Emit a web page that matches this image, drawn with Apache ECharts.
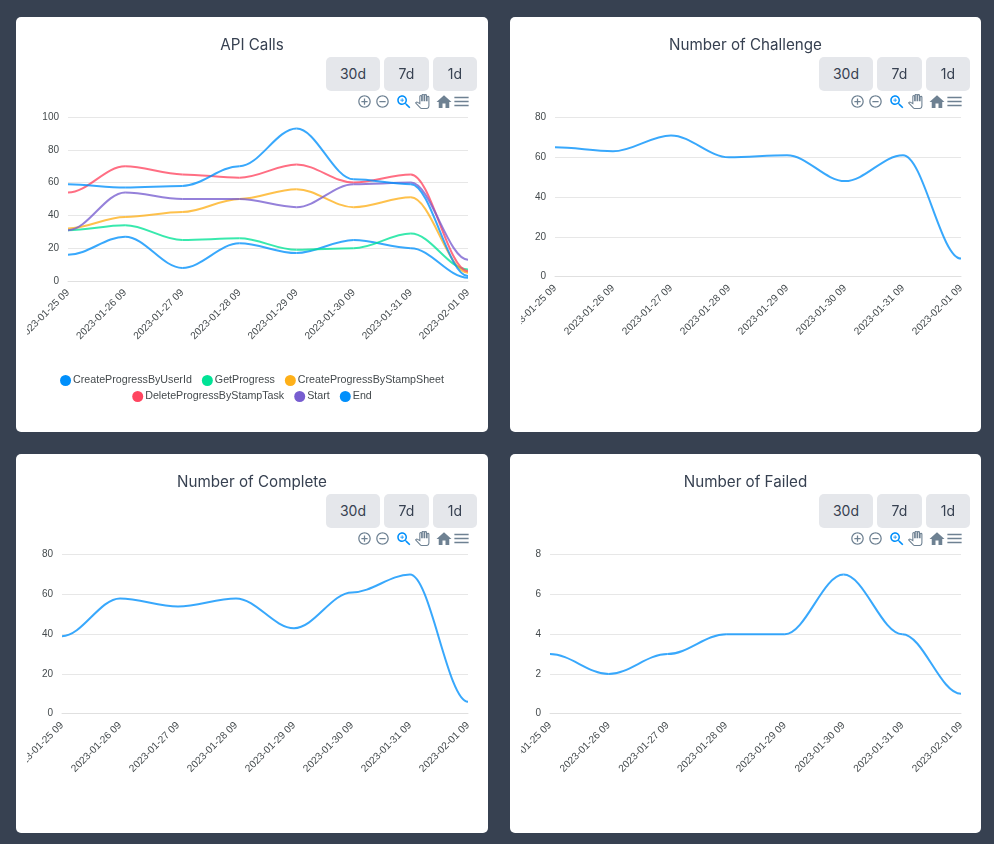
<!DOCTYPE html>
<html>
<head>
<meta charset="utf-8">
<title>Stats</title>
<script src="https://cdn.jsdelivr.net/npm/echarts@6/dist/echarts.min.js"></script>
<style>
  html, body { margin: 0; padding: 0; background: #374151; width: 994px; height: 844px; overflow: hidden; }
  .card { position: absolute; background: #fff; border-radius: 5px; }
  .chart { position: absolute; top: 0; }
  .btn { position: absolute; top: 40px; height: 34px; font: 14px/34px Inter, sans-serif; text-align: center;
         background: #e5e7eb; border-radius: 5px; color: #374151; }
  .tool { position: absolute; display: block; }
</style>
</head>
<body>
<div id="page"></div>
<script>
// カテゴリと各系列の値
const days = ['2023-01-25 09', '2023-01-26 09', '2023-01-27 09', '2023-01-28 09', '2023-01-29 09', '2023-01-30 09', '2023-01-31 09', '2023-02-01 09'];

const createByUserId = [16, 27, 8, 23, 17, 25, 20, 2];
const getProgress = [31, 34, 25, 26, 19, 20, 29, 7];
const createByStampSheet = [32, 39, 42, 50, 56, 45, 51, 5];
const deleteByStampTask = [54, 70, 65, 63, 71, 60, 65, 6];
const startCalls = [31, 54, 50, 50, 45, 59, 60, 13];
const endCalls = [59, 57, 58, 70, 93, 62, 59, 3];

const challengeCounts = [65, 63, 71, 60, 61, 48, 61, 9];
const completeCounts = [39, 58, 54, 58, 43, 61, 70, 6];
const failedCounts = [3, 2, 3, 4, 4, 7, 4, 1];

const rangeLabels = ['30d', '7d', '1d'];
const legendRow1 = ['CreateProgressByUserId', 'GetProgress', 'CreateProgressByStampSheet'];
const legendRow2 = ['DeleteProgressByStampTask', 'Start', 'End'];

const API_COLORS = ['#008FFB', '#00E396', '#FEB019', '#FF4560', '#775DD0', '#008FFB'];
const TEXT = '#444a4d';
const GRID_LINE = '#e7e7e7';
const AXIS_FONT = '"Liberation Sans", Arial, sans-serif';
const CURVE_HANDLE = 0.35;

const apiSeries = [
    { name: legendRow1[0], data: createByUserId },
    { name: legendRow1[1], data: getProgress },
    { name: legendRow1[2], data: createByStampSheet },
    { name: legendRow2[0], data: deleteByStampTask },
    { name: legendRow2[1], data: startCalls },
    { name: legendRow2[2], data: endCalls }
];

const panels = [
    { title: 'API Calls', series: apiSeries, max: 100, interval: 20, x: 16, y: 17, w: 472, h: 415, cx: 27, cw: 450, left: 41, gridTop: 100, gridH: 164, legend: true },
    { title: 'Number of Challenge', series: [{ name: 'Challenge', data: challengeCounts }], max: 80, interval: 20, x: 510, y: 17, w: 471, h: 415, cx: 521, cw: 449, left: 34, gridTop: 100.5, gridH: 159 },
    { title: 'Number of Complete', series: [{ name: 'Complete', data: completeCounts }], max: 80, interval: 20, x: 16, y: 454, w: 472, h: 379, cx: 27, cw: 450, left: 35, gridTop: 100.7, gridH: 159 },
    { title: 'Number of Failed', series: [{ name: 'Failed', data: failedCounts }], max: 8, interval: 2, x: 510, y: 454, w: 471, h: 379, cx: 521, cw: 449, left: 29, gridTop: 100.7, gridH: 159 }
];

// ツールバーのアイコン
const ICONS = {
    plus: 'M13 7h-2v4H7v2h4v4h2v-4h4v-2h-4V7zm-1-5C6.48 2 2 6.48 2 12s4.48 10 10 10 10-4.48 10-10S17.52 2 12 2zm0 18c-4.41 0-8-3.59-8-8s3.59-8 8-8 8 3.59 8 8-3.59 8-8 8z',
    minus: 'M7 11v2h10v-2H7zm5-9C6.48 2 2 6.48 2 12s4.48 10 10 10 10-4.48 10-10S17.52 2 12 2zm0 18c-4.41 0-8-3.59-8-8s3.59-8 8-8 8 3.59 8 8-3.59 8-8 8z',
    zoom: 'M15.5 14h-.79l-.28-.27C15.41 12.59 16 11.11 16 9.5 16 5.91 13.09 3 9.5 3S3 5.91 3 9.5 5.91 16 9.5 16c1.61 0 3.09-.59 4.23-1.57l.27.28v.79l5 4.99L20.49 19l-4.99-5zm-6 0C7.01 14 5 11.99 5 9.5S7.01 5 9.5 5 14 7.01 14 9.5 11.99 14 9.5 14zM12 10h-2v2H9v-2H7V9h2V7h1v2h2v1z',
    hand: 'M23 5.5V20c0 2.2-1.8 4-4 4h-7.3c-1.08 0-2.1-.43-2.85-1.19L1 14.83s1.26-1.23 1.3-1.25c.22-.19.49-.29.79-.29.22 0 .42.06.6.16.04.01 4.31 2.46 4.31 2.46V4c0-.83.67-1.5 1.5-1.5S11 3.17 11 4v7h1V1.5c0-.83.67-1.5 1.5-1.5S15 .67 15 1.5V11h1V2.5c0-.83.67-1.5 1.5-1.5s1.5.67 1.5 1.5V11h1V5.5c0-.83.67-1.5 1.5-1.5s1.5.67 1.5 1.5z',
    home: 'M10 20v-6h4v6h5v-8h3L12 3 2 12h3v8z',
    menu: 'M3 18h18v-2H3v2zm0-5h18v-2H3v2zm0-7v2h18V6H3z'
};
const TOOLS = [
    { d: ICONS.plus, cx: 348, size: 15, fill: '#6E8192' },
    { d: ICONS.minus, cx: 366, size: 15, fill: '#6E8192' },
    { d: ICONS.zoom, cx: 387.5, size: 18, fill: '#008FFB' },
    { d: ICONS.hand, cx: 406.7, size: 14.5, fill: '#fff', stroke: '#6E8192' },
    { d: ICONS.home, cx: 428, size: 18, fill: '#6E8192' },
    { d: ICONS.menu, cx: 445.7, size: 19, fill: '#6E8192' }
];
const BUTTONS = [{ x: 310, w: 54 }, { x: 368, w: 45 }, { x: 417, w: 44 }];

// 各点で水平に接する曲線（line の smooth では両端が水平にならないため custom で描く）
function flatCurveRenderer(values, color) {
    return function (params, api) {
        const i = params.dataIndex;
        if (i >= values.length - 1) return null;
        const a = api.coord([i, values[i]]);
        const b = api.coord([i + 1, values[i + 1]]);
        const handle = (b[0] - a[0]) * CURVE_HANDLE;
        return {
            type: 'bezierCurve',
            shape: { x1: a[0], y1: a[1], cpx1: a[0] + handle, cpy1: a[1], cpx2: b[0] - handle, cpy2: b[1], x2: b[0], y2: b[1] },
            style: { fill: null, stroke: color, lineWidth: 2, opacity: 0.78 }
        };
    };
}

function buildOption(p) {
    const option = {
        animation: false,
        title: {
            text: p.title, left: 'center', top: 16,
            textStyle: { fontFamily: 'Inter, sans-serif', fontSize: 15.2, fontWeight: 'normal', color: '#374151' }
        },
        grid: { left: p.left, right: 9, top: p.gridTop, height: p.gridH, outerBoundsMode: 'none' },
        xAxis: {
            type: 'category', data: days, boundaryGap: false,
            axisLine: { lineStyle: { color: '#e0e0e0', width: 1 } },
            axisTick: { show: false },
            axisLabel: { rotate: 45, interval: 0, margin: 10, fontSize: 10.2, fontFamily: AXIS_FONT, color: TEXT }
        },
        yAxis: {
            type: 'value', min: 0, max: p.max, interval: p.interval,
            axisLine: { show: false }, axisTick: { show: false },
            splitLine: { lineStyle: { color: GRID_LINE, width: 1 } },
            axisLabel: { margin: 9, fontSize: 10, fontFamily: AXIS_FONT, color: TEXT, padding: [0, 0, 3, 0] }
        },
        series: p.series.map((s, i) => ({
            name: s.name, type: 'custom', coordinateSystem: 'cartesian2d',
            data: s.data.map((v, k) => [k, v]),
            encode: { x: 0, y: 1 },
            itemStyle: { color: API_COLORS[i] },
            renderItem: flatCurveRenderer(s.data, API_COLORS[i])
        }))
    };
    if (p.legend) {
        const legendBase = {
            left: 'center', icon: 'circle', itemWidth: 11, itemHeight: 11, itemGap: 10, selectedMode: false,
            textStyle: { fontSize: 10.7, fontFamily: AXIS_FONT, color: TEXT, padding: [1, 0, 0, -3] }
        };
        option.legend = [
            Object.assign({}, legendBase, { data: legendRow1, top: 353 }),
            Object.assign({}, legendBase, { data: legendRow2, top: 369 })
        ];
    }
    return option;
}

const page = document.getElementById('page');
panels.forEach(p => {
    const card = document.createElement('div');
    card.className = 'card';
    card.style.cssText = `left:${p.x}px;top:${p.y}px;width:${p.w}px;height:${p.h}px`;
    page.appendChild(card);

    const box = document.createElement('div');
    box.className = 'chart';
    box.style.cssText = `left:${p.cx - p.x}px;width:${p.cw}px;height:${p.h}px`;
    card.appendChild(box);
    echarts.init(box).setOption(buildOption(p));

    const nudge = p.x === 16 ? 0 : -1;
    rangeLabels.forEach((label, i) => {
        const b = document.createElement('div');
        b.className = 'btn';
        b.textContent = label;
        b.style.left = BUTTONS[i].x + nudge + 'px';
        b.style.width = BUTTONS[i].w + 'px';
        card.appendChild(b);
    });
    TOOLS.forEach(t => {
        const svg = document.createElementNS('http://www.w3.org/2000/svg', 'svg');
        svg.setAttribute('viewBox', '0 0 24 24');
        svg.setAttribute('class', 'tool');
        svg.style.cssText = `left:${t.cx + nudge - t.size / 2}px;top:${84.7 - t.size / 2}px;width:${t.size}px;height:${t.size}px`;
        const path = document.createElementNS('http://www.w3.org/2000/svg', 'path');
        path.setAttribute('d', t.d);
        path.setAttribute('fill', t.fill);
        if (t.stroke) {
            path.setAttribute('stroke', t.stroke);
            path.setAttribute('stroke-width', '1.8');
        }
        svg.appendChild(path);
        card.appendChild(svg);
    });
});
</script>
</body>
</html>
